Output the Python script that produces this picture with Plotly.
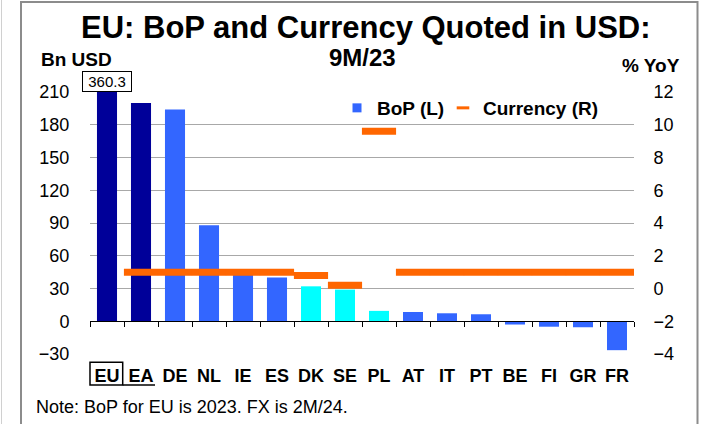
import plotly.graph_objects as go
import numpy as np

# ---- data ----
categories = ["EU", "EA", "DE", "NL", "IE", "ES", "DK", "SE", "PL", "AT", "IT", "PT", "BE", "FI", "GR", "FR"]
bop_bn_usd = [360.3, 200, 194, 88, 43, 40, 32, 29, 9.5, 8.5, 7.3, 6.4, -3.0, -5.0, -5.5, -26.5]
currency_yoy = [None, 1.0, 1.0, 1.0, 1.0, 1.0, 0.8, 0.2, 9.6, 1.0, 1.0, 1.0, 1.0, 1.0, 1.0, 1.0]
bar_colors = ["#000099", "#000099", "#3366FF", "#3366FF", "#3366FF", "#3366FF", "#00FFFF", "#00FFFF",
              "#00FFFF", "#3366FF", "#3366FF", "#3366FF", "#3366FF", "#3366FF", "#3366FF", "#3366FF"]
left_ticks = [-30, 0, 30, 60, 90, 120, 150, 180, 210]
right_ticks = [-4, -2, 0, 2, 4, 6, 8, 10, 12]

FONT = "Liberation Sans, Arial, sans-serif"
W, H = 705, 424
ML, MR, MT, MB = 90, 71, 92, 70
PW, PH = W - ML - MR, H - MT - MB

def fx(x):
    return (x - ML) / PW

def fy(y):
    return (H - MB - y) / PH

fig = go.Figure()

fig.add_trace(go.Bar(
    x=categories, y=bop_bn_usd, marker=dict(color=bar_colors, line=dict(width=0)),
    showlegend=False, xaxis="x", yaxis="y", cliponaxis=True,
))

fig.add_trace(go.Scatter(
    x=categories, y=currency_yoy, mode="markers",
    marker=dict(symbol="line-ew", size=24.4, line=dict(color="#FF6600", width=7)),
    showlegend=False, xaxis="x", yaxis="y2",
))

# legend entries
fig.add_trace(go.Scatter(
    x=[None], y=[None], mode="markers", name="BoP (L)",
    marker=dict(symbol="square", size=9, color="#3366FF"), legend="legend",
))
fig.add_trace(go.Scatter(
    x=[None], y=[None], mode="markers", name="Currency (R)",
    marker=dict(symbol="line-ew", size=9, line=dict(color="#FF6600", width=3)), legend="legend2",
    xaxis="x2", yaxis="y2",
))

n = len(categories)
fig.update_layout(
    width=W, height=H,
    margin=dict(l=ML, r=MR, t=MT, b=MB, pad=0),
    paper_bgcolor="white", plot_bgcolor="white",
    font=dict(family=FONT, color="black"),
    bargap=0.41,
    xaxis=dict(
        type="category", categoryorder="array", categoryarray=categories,
        range=[-0.5, n - 0.5], showline=False, showgrid=False, zeroline=False,
        ticks="outside", ticklen=5, tickcolor="rgba(0,0,0,0)",
        tickfont=dict(size=18, family=FONT, color="black", weight="bold"),
    ),
    xaxis2=dict(
        overlaying="x", anchor="free", position=30 / 240, range=[-0.5, n - 0.5],
        tickmode="array", tickvals=list(np.arange(n + 1) - 0.5),
        showticklabels=False, ticks="outside", ticklen=5, tickcolor="black",
        showline=True, linecolor="black", linewidth=1, showgrid=False, zeroline=False,
    ),
    yaxis=dict(
        range=[-30, 210], tickmode="array", tickvals=left_ticks,
        showgrid=True, gridcolor="#a8a8a8", gridwidth=1, zeroline=False, showline=False,
        ticks="outside", ticklen=16, tickcolor="rgba(0,0,0,0)",
        tickfont=dict(size=18, family=FONT, color="black"),
    ),
    yaxis2=dict(
        overlaying="y", side="right", range=[-4, 12], tickmode="array", tickvals=right_ticks,
        showgrid=False, zeroline=False, showline=False,
        ticks="outside", ticklen=15, tickcolor="rgba(0,0,0,0)",
        tickfont=dict(size=18, family=FONT, color="black"),
    ),
    legend=dict(
        x=fx(337), y=fy(108), xanchor="left", yanchor="middle", orientation="h",
        bgcolor="rgba(0,0,0,0)", font=dict(size=19, family=FONT, color="black", weight="bold"),
        itemwidth=30,
    ),
    legend2=dict(
        x=fx(443), y=fy(108), xanchor="left", yanchor="middle", orientation="h",
        bgcolor="rgba(0,0,0,0)", font=dict(size=19, family=FONT, color="black", weight="bold"),
        itemwidth=30,
    ),
)

annotations = [
    dict(text="<b>EU: BoP and Currency Quoted in USD:</b>", x=fx(366), y=fy(27), xref="paper", yref="paper",
         xanchor="center", yanchor="middle", showarrow=False, font=dict(size=31, family=FONT, color="black")),
    dict(text="<b>9M/23</b>", x=fx(362), y=fy(58), xref="paper", yref="paper",
         xanchor="center", yanchor="middle", showarrow=False, font=dict(size=24, family=FONT, color="black")),
    dict(text="<b>Bn USD</b>", x=fx(39), y=fy(59), xref="paper", yref="paper",
         xanchor="left", yanchor="middle", showarrow=False, font=dict(size=19, family=FONT, color="black")),
    dict(text="<b>% YoY</b>", x=fx(682), y=fy(65), xref="paper", yref="paper",
         xanchor="right", yanchor="middle", showarrow=False, font=dict(size=19, family=FONT, color="black")),
    dict(text="Note: BoP for EU is 2023. FX is 2M/24.", x=fx(34), y=fy(407), xref="paper", yref="paper",
         xanchor="left", yanchor="middle", showarrow=False, font=dict(size=18, family=FONT, color="black")),
    dict(text=f"{bop_bn_usd[0]:.1f}", x=categories[0], y=210, xref="x", yref="y",
         xanchor="center", yanchor="bottom", showarrow=False, width=48, height=19,
         bordercolor="black", borderwidth=1, borderpad=0, bgcolor="white",
         font=dict(size=15, family=FONT, color="black")),
]
fig.update_layout(annotations=annotations)

shapes = [
    # outer frame
    dict(type="rect", xref="paper", yref="paper", x0=fx(21), x1=fx(697.5), y0=fy(2), y1=fy(440),
         line=dict(color="#8c8c8c", width=2), fillcolor="rgba(0,0,0,0)", layer="above"),
    dict(type="line", xref="paper", yref="paper", x0=fx(1.5), x1=fx(1.5), y0=fy(0), y1=fy(424),
         line=dict(color="#d0d0d0", width=1)),
    # box around EU label and underline of EA label
    dict(type="rect", xref="paper", yref="paper", x0=fx(90), x1=fx(122.7), y0=fy(385), y1=fy(362.3),
         line=dict(color="black", width=1.5), fillcolor="rgba(0,0,0,0)"),
    dict(type="line", xref="paper", yref="paper", x0=fx(122.7), x1=fx(155), y0=fy(385), y1=fy(385),
         line=dict(color="black", width=1.5)),
]
fig.update_layout(shapes=shapes)

fig.write_html(
    "out.html",
    config={"displayModeBar": False},
    post_script="document.body.style.margin='0';document.body.style.overflow='hidden';",
)
